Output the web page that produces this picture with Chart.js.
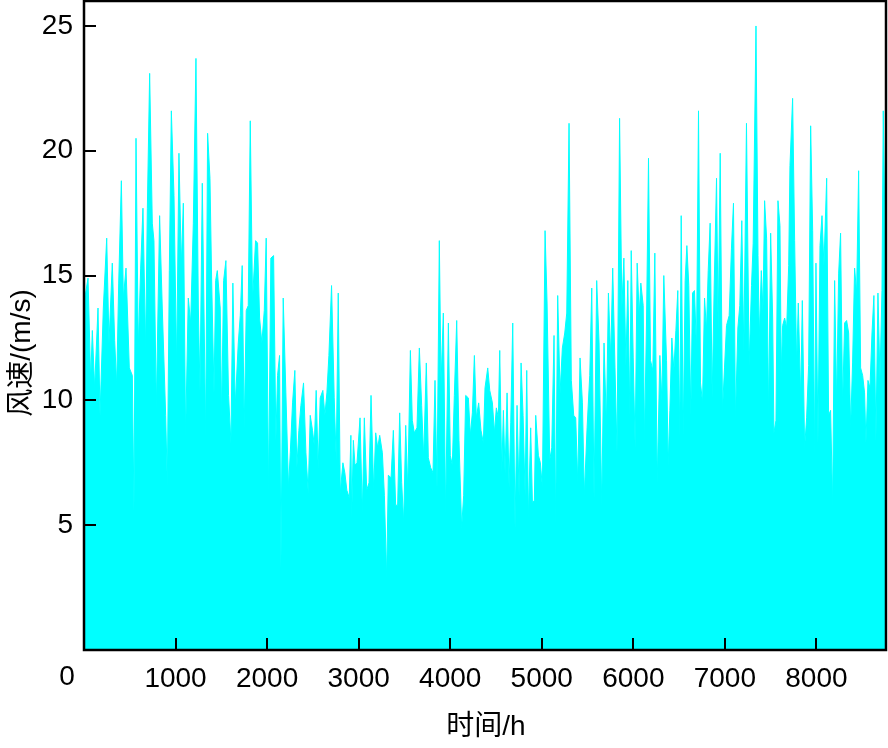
<!DOCTYPE html>
<html>
<head>
<meta charset="utf-8">
<title>风速</title>
<script src="https://cdn.jsdelivr.net/npm/chart.js@4.4.1/dist/chart.umd.min.js"></script>
<style>
    html, body { margin: 0; padding: 0; background: #fff; }
    #wrap { width: 888px; height: 748px; }
</style>
</head>
<body>
<div id="wrap"><canvas id="chart-wind" width="888" height="748"></canvas></div>
<script>
// hour of year for each read point
const hours = [
    0, 18, 44, 73, 91, 116, 153, 175, 211, 248, 273, 309, 335, 357, 379, 408, 430, 459, 495, 528,
    546, 568, 593, 619, 644, 673, 692, 717, 746, 764, 790, 826, 855, 892, 910, 932, 954, 983, 1012, 1037,
    1063, 1085, 1110, 1139, 1165, 1194, 1223, 1249, 1267, 1292, 1329, 1350, 1376, 1394, 1420, 1438, 1456,
    1488, 1503, 1525, 1550, 1579, 1605, 1626, 1652, 1685, 1707, 1728, 1750, 1772, 1794, 1816, 1841, 1874, 1896, 1918, 1943,
    1969, 1990, 2016, 2041, 2071, 2096, 2114, 2136, 2151, 2176, 2205, 2234, 2253, 2278, 2303, 2325, 2347, 2369, 2398, 2424,
    2449, 2471, 2496, 2515, 2536, 2558, 2580, 2609, 2631, 2653, 2675, 2704, 2733, 2755, 2777, 2799, 2828, 2849, 2871, 2897, 2915,
    2924, 2942, 2960, 2982, 3015, 3040, 3062, 3088, 3113, 3135, 3164, 3186, 3208, 3230, 3259, 3281, 3306, 3324, 3354, 3379,
    3404, 3426, 3448, 3470, 3492, 3514, 3536, 3565, 3586, 3608, 3637, 3663, 3688, 3710, 3739, 3761, 3787, 3812, 3834, 3856,
    3881, 3900, 3925, 3950, 3980, 4001, 4023, 4045, 4071, 4096, 4125, 4147, 4169, 4198, 4220, 4242, 4264, 4285, 4311, 4336, 4362, 4380,
    4410, 4432, 4461, 4483, 4504, 4526, 4541, 4563, 4581, 4599, 4621, 4643, 4661, 4683, 4708, 4730, 4752, 4774, 4796, 4818,
    4836, 4854, 4879, 4898, 4919, 4934, 4963, 4985, 5007, 5036, 5058, 5087, 5109, 5134, 5152, 5174, 5200, 5225, 5251, 5273,
    5298, 5323, 5349, 5371, 5393, 5418, 5444, 5465, 5495, 5524, 5546, 5571, 5600, 5626, 5655, 5680, 5706, 5728, 5753, 5775, 5800, 5822, 5850,
    5875, 5897, 5919, 5940, 5962, 5977, 5999, 6020, 6042, 6064, 6082, 6108, 6122, 6144, 6166, 6188, 6213, 6235, 6261, 6290,
    6312, 6333, 6363, 6381, 6399, 6421, 6443, 6465, 6486, 6508, 6523, 6545, 6566, 6585, 6606, 6628, 6647, 6668, 6690, 6712,
    6734, 6756, 6778, 6799, 6818, 6839, 6861, 6883, 6909, 6927, 6949, 6974, 6996, 7018, 7047, 7072, 7094, 7116, 7142, 7163,
    7185, 7207, 7236, 7265, 7291, 7309,
    7340, 7362, 7376, 7398, 7416, 7434, 7456, 7478, 7500, 7522, 7536, 7558, 7580, 7602, 7616, 7631, 7653, 7675, 7697, 7711,
    7740, 7762, 7784, 7802, 7828, 7846, 7871, 7893, 7915, 7937, 7959, 7980, 7995, 8017, 8039, 8061, 8082, 8112, 8133, 8155,
    8177, 8199, 8221, 8243, 8264, 8286, 8308, 8330, 8352, 8374, 8395, 8417, 8439, 8461, 8483, 8505, 8526, 8541, 8563, 8585,
    8607, 8628, 8650, 8672, 8694, 8716, 8730, 8759
];

// wind speed (m/s) at those hours
const windSpeed = [
    14.0, 14.3, 14.9, 10.8, 12.8, 10.5, 13.7, 9.4, 13.7, 16.5, 12.3, 15.5, 12.4, 10.6, 14.7, 18.8, 14.1, 15.3, 11.3, 11.0,
    5.6, 20.5, 12.1, 15.3, 17.7, 12.1, 17.7, 23.1, 17.1, 16.4, 9.7, 17.4, 13.7, 9.4, 6.6, 15.2, 21.6, 18.2, 11.4, 19.9,
    15.4, 17.9, 8.6, 14.1, 13.1, 17.1, 23.7, 13.7, 10.4, 18.7, 8.6, 20.7, 18.9, 14.9, 10.3, 14.8, 15.2,
    13.7, 9.4, 14.8, 15.6, 10.2, 8.3, 14.7, 9.8, 12.3, 13.4, 15.4, 8.9, 13.6, 13.8, 21.2, 14.0, 16.4, 16.3, 13.3, 12.3,
    13.6, 16.5, 6.4, 15.7, 15.8, 8.4, 11.0, 11.8, 3.3, 14.1, 10.3, 6.5, 7.9, 9.9, 11.2, 7.3, 8.8, 9.8, 10.7, 7.9,
    6.3, 9.4, 8.8, 8.2, 10.4, 7.3, 10.1, 10.4, 9.4, 10.3, 11.8, 14.6, 10.1, 7.6, 14.3, 6.3, 7.5, 7.1, 6.4, 6.1, 8.6,
    5.3, 8.4, 7.4, 7.5, 9.3, 5.5, 9.3, 6.4, 6.7, 10.2, 6.4, 8.7, 8.1, 8.6, 7.9, 6.2, 2.9, 7.0, 6.9, 8.8,
    5.8, 5.8, 9.5, 6.7, 5.1, 9.0, 6.4, 12.0, 9.2, 8.7, 8.9, 12.1, 9.8, 7.7, 11.5, 7.7, 7.3, 7.1, 10.8, 6.5,
    16.4, 10.7, 13.5, 5.5, 13.1, 7.8, 7.4, 10.2, 13.2, 8.4, 4.9, 6.2, 10.2, 10.1, 8.6, 9.5, 11.8, 9.3, 9.9, 8.8, 8.3, 10.5,
    11.3, 10.4, 9.9, 8.7, 9.7, 9.3, 12.0, 7.1, 9.6, 7.1, 10.3, 6.5, 9.1, 13.1, 4.9, 9.8, 6.2, 11.5, 9.4, 6.2,
    11.2, 5.3, 8.9, 5.9, 6.0, 9.4, 7.8, 7.5, 6.5, 16.8, 13.9, 7.6, 8.1, 12.6, 5.1, 14.2, 10.3, 12.1, 12.7, 13.5,
    21.1, 10.8, 9.4, 9.3, 6.7, 11.7, 9.9, 6.2, 8.9, 11.0, 14.5, 6.1, 14.8, 12.3, 5.8, 12.3, 9.0, 14.3, 11.7, 15.3, 11.3, 7.9, 21.3,
    13.7, 15.7, 11.4, 14.8, 9.4, 16.0, 11.7, 8.1, 15.5, 13.4, 14.7, 13.8, 8.4, 13.1, 19.7, 11.6, 11.2, 15.9, 6.7, 11.8,
    10.0, 15.0, 11.6, 7.4, 9.6, 12.5, 11.2, 12.8, 14.4, 8.6, 17.4, 8.6, 14.8, 16.2, 14.6, 9.4, 14.3, 14.4, 12.0, 21.6,
    10.7, 9.9, 14.1, 12.8, 15.2, 17.1, 10.1, 14.5, 18.9, 12.8, 19.9, 9.6, 11.3, 13.0, 13.4, 16.1, 17.9, 9.3, 12.9, 13.8,
    17.2, 12.0, 21.1, 11.4, 14.6, 16.3,
    25.0, 15.8, 12.5, 15.2, 13.6, 18.0, 16.5, 9.4, 16.7, 13.3, 8.7, 9.2, 18.0, 17.0, 11.1, 13.0, 13.3, 12.9, 15.4, 19.4,
    22.1, 16.4, 11.4, 13.9, 10.1, 14.0, 8.1, 9.3, 11.4, 21.0, 16.8, 7.9, 15.5, 8.3, 16.2, 17.4, 15.4, 18.9, 9.4, 9.6,
    5.8, 14.8, 9.9, 15.1, 16.7, 9.8, 13.1, 13.2, 12.7, 8.9, 11.5, 15.3, 14.3, 19.2, 11.3, 11.0, 10.3, 8.3, 10.8, 10.5,
    12.7, 14.2, 8.4, 14.3, 10.9, 14.4, 21.6, 14.2
];

const xTicks = [1000, 2000, 3000, 4000, 5000, 6000, 7000, 8000];
const yTicks = [5, 10, 15, 20, 25];
const xTitle = '时间/h';
const yTitle = '风速/(m/s)';

const FONT = '"Liberation Sans", Arial, "Noto Sans CJK SC", sans-serif';

// box round the plot, inward ticks, axis titles
const framePlugin = {
    id: 'frame',
    afterDraw(chart) {
        const ctx = chart.ctx;
        const a = chart.chartArea;
        const x = chart.scales.x;
        const y = chart.scales.y;
        ctx.save();
        ctx.strokeStyle = '#000';
        ctx.lineWidth = 2.5;
        ctx.strokeRect(a.left, a.top, a.right - a.left, a.bottom - a.top);
        ctx.lineWidth = 2;
        ctx.beginPath();
        xTicks.forEach(v => {
            const px = Math.round(x.getPixelForValue(v));
            ctx.moveTo(px, a.bottom);
            ctx.lineTo(px, a.bottom - 12);
        });
        yTicks.forEach(v => {
            const py = Math.round(y.getPixelForValue(v));
            ctx.moveTo(a.left, py);
            ctx.lineTo(a.left + 12, py);
        });
        ctx.stroke();

        ctx.fillStyle = '#000';
        ctx.textAlign = 'center';
        ctx.textBaseline = 'middle';
        ctx.font = '28px ' + FONT;
        ctx.fillText('0', 67, 677);
        ctx.fillText(xTitle, 486, 727);
        ctx.translate(22, 353);
        ctx.rotate(-Math.PI / 2);
        ctx.fillText(yTitle, 0, 0);
        ctx.restore();
    }
};

const element = document.getElementById('chart-wind');
const windChart = new Chart(element, {
    type: 'line',
    data: {
        datasets: [{
            label: '风速',
            data: hours.map((h, i) => ({ x: h, y: windSpeed[i] })),
            borderColor: '#00FFFF',
            backgroundColor: '#00FFFF',
            borderWidth: 1,
            fill: 'origin',
            pointRadius: 0,
            tension: 0
        }]
    },
    options: {
        responsive: false,
        animation: false,
        devicePixelRatio: 1,
        layout: { padding: { top: 1, right: 2, left: 0, bottom: 0 } },
        plugins: {
            legend: { display: false },
            tooltip: { enabled: false }
        },
        scales: {
            x: {
                type: 'linear',
                min: 0,
                max: 8760,
                grid: { display: false, drawTicks: false },
                border: { display: false },
                afterFit: s => {
                    s.height = 98;
                    s.paddingLeft = 0;
                    s.paddingRight = 0;
                },
                afterBuildTicks: s => { s.ticks = xTicks.map(v => ({ value: v })); },
                ticks: {
                    color: '#000',
                    padding: 12,
                    maxRotation: 0,
                    callback: v => String(v),
                    font: { family: FONT, size: 28 }
                }
            },
            y: {
                min: 0,
                max: 26,
                grid: { display: false, drawTicks: false },
                border: { display: false },
                afterFit: s => {
                    s.width = 84;
                    s.paddingTop = 0;
                    s.paddingBottom = 0;
                },
                afterBuildTicks: s => { s.ticks = yTicks.map(v => ({ value: v })); },
                ticks: {
                    color: '#000',
                    padding: 11,
                    callback: v => String(v),
                    font: { family: FONT, size: 28 }
                }
            }
        }
    },
    plugins: [framePlugin]
});
</script>
</body>
</html>
